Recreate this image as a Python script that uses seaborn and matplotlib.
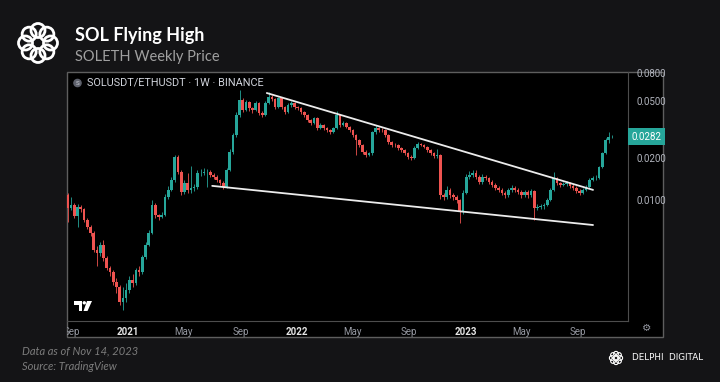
import numpy as np
import pandas as pd
import matplotlib.pyplot as plt
import matplotlib.dates as mdates
from matplotlib.patches import Rectangle, Circle, Polygon
from matplotlib.ticker import NullLocator
from matplotlib.transforms import blended_transform_factory
import seaborn as sns

# SOLUSDT/ETHUSDT weekly candles (values in units of 0.01)
first_week = "2020-08-24"
first_open = 1.09
closes = [
    0.877, 0.922, 0.770, 0.892, 0.863, 0.721, 0.644, 0.583, 0.442, 0.421,
    0.480, 0.388, 0.330, 0.309, 0.262, 0.242, 0.189, 0.202, 0.230, 0.271,
    0.258, 0.319, 0.309, 0.394, 0.480, 0.583, 0.922, 0.783, 0.758, 0.783,
    1.05, 1.18, 1.39, 2.02, 1.58, 1.14, 1.32, 1.18, 1.22, 1.24,
    1.55, 1.56, 1.58, 1.59, 1.50, 1.46, 1.39, 1.32, 1.24, 1.63,
    2.19, 2.89, 4.01, 5.12, 4.35, 4.95, 4.49, 4.35, 4.88, 4.14,
    4.01, 4.88, 5.38, 5.20, 4.57, 5.29, 4.57, 4.21, 4.72, 4.88,
    4.57, 4.49, 4.21, 4.01, 3.69, 3.52, 3.82, 3.24, 3.40, 3.24,
    3.14, 3.03, 3.24, 4.01, 3.40, 3.52, 3.30, 3.14, 2.89, 2.66,
    2.45, 2.19, 2.09, 2.15, 3.03, 3.24, 3.14, 3.12, 2.89, 2.58,
    2.45, 2.44, 2.34, 2.26, 2.15, 2.02, 1.99, 2.34, 2.50, 2.45,
    2.38, 2.26, 2.15, 2.05, 2.09, 1.08, 1.05, 1.18, 1.08, 1.05,
    1.00, 0.822, 1.12, 1.46, 1.50, 1.55, 1.46, 1.34, 1.46, 1.43,
    1.34, 1.28, 1.22, 1.18, 1.12, 1.08, 1.18, 1.22, 1.18, 1.14,
    1.08, 1.14, 1.08, 1.16, 0.877, 0.892, 0.900, 0.922, 1.00, 1.18,
    1.43, 1.32, 1.28, 1.30, 1.32, 1.26, 1.22, 1.16, 1.12, 1.18,
    1.24, 1.39, 1.43, 1.44, 1.71, 2.15, 2.66, 2.80, 2.82,
]
highs = [
    1.12, 1.05, 0.95, 0.93, 0.92, 0.88, 0.74, 0.66, 0.60, 0.47,
    0.50, 0.52, 0.40, 0.34, 0.32, 0.28, 0.25, 0.24, 0.26, 0.29,
    0.30, 0.33, 0.34, 0.41, 0.50, 0.61, 1.00, 0.96, 0.80, 0.82,
    1.10, 1.25, 1.45, 2.10, 2.08, 1.62, 1.38, 1.55, 1.75, 1.30,
    1.62, 1.65, 1.68, 1.65, 1.62, 1.55, 1.50, 1.42, 1.36, 1.70,
    2.30, 3.00, 4.20, 6.03, 5.30, 5.10, 5.05, 4.60, 5.00, 4.95,
    4.25, 5.00, 5.83, 5.55, 5.30, 5.40, 5.35, 4.65, 4.85, 5.00,
    4.95, 4.65, 4.55, 4.30, 4.05, 3.75, 3.90, 3.88, 3.50, 3.45,
    3.30, 3.20, 3.30, 4.25, 4.05, 3.65, 3.58, 3.35, 3.18, 2.95,
    2.70, 2.50, 2.25, 2.20, 3.10, 3.40, 3.30, 3.22, 3.18, 2.95,
    2.62, 2.55, 2.50, 2.38, 2.30, 2.20, 2.08, 2.40, 2.58, 2.55,
    2.50, 2.42, 2.30, 2.20, 2.30, 2.12, 1.12, 1.25, 1.22, 1.12,
    1.08, 1.02, 1.18, 1.52, 1.60, 1.63, 1.62, 1.50, 1.52, 1.50,
    1.46, 1.38, 1.32, 1.26, 1.22, 1.15, 1.22, 1.27, 1.26, 1.22,
    1.17, 1.18, 1.17, 1.20, 1.18, 0.93, 0.94, 0.96, 1.04, 1.22,
    1.58, 1.46, 1.35, 1.34, 1.36, 1.35, 1.29, 1.25, 1.19, 1.21,
    1.28, 1.43, 1.48, 1.50, 1.75, 2.20, 2.75, 3.03, 2.90,
]
lows = [
    0.70, 0.85, 0.74, 0.64, 0.82, 0.70, 0.62, 0.56, 0.43, 0.34,
    0.40, 0.37, 0.32, 0.29, 0.25, 0.22, 0.18, 0.166, 0.19, 0.22,
    0.24, 0.25, 0.29, 0.30, 0.38, 0.47, 0.57, 0.74, 0.72, 0.74,
    0.77, 1.02, 1.15, 1.35, 1.52, 1.08, 1.10, 1.12, 1.12, 1.16,
    1.20, 1.48, 1.50, 1.24, 1.45, 1.40, 1.34, 1.27, 1.20, 1.22,
    1.60, 2.12, 2.80, 3.90, 4.20, 4.25, 4.30, 4.15, 4.25, 4.00,
    3.85, 3.95, 4.80, 5.00, 4.45, 4.50, 4.45, 4.10, 4.15, 4.60,
    4.45, 4.35, 4.10, 3.90, 3.60, 3.40, 3.45, 3.15, 3.18, 3.15,
    3.05, 2.95, 2.98, 3.20, 3.30, 3.35, 3.22, 3.05, 2.80, 2.09,
    2.38, 2.12, 2.02, 2.05, 2.10, 2.95, 3.05, 3.05, 2.80, 2.50,
    2.38, 2.38, 2.27, 2.20, 2.08, 1.96, 1.93, 1.95, 2.30, 2.40,
    2.32, 2.20, 2.08, 2.00, 2.00, 1.02, 1.00, 1.02, 1.04, 1.00,
    0.95, 0.687, 0.80, 1.10, 1.40, 1.45, 1.42, 1.30, 1.30, 1.38,
    1.30, 1.24, 1.18, 1.14, 1.08, 1.04, 1.05, 1.14, 1.14, 1.10,
    1.04, 1.05, 1.04, 1.05, 0.72, 0.85, 0.86, 0.87, 0.90, 0.98,
    1.15, 1.28, 1.24, 1.25, 1.26, 1.22, 1.18, 1.12, 1.08, 1.10,
    1.15, 1.22, 1.36, 1.38, 1.40, 1.68, 2.12, 2.55, 2.75,
]
scale = 0.01
last_price = 0.0282

# wedge trendlines drawn on the chart
upper_line_dates = ["2021-10-28", "2023-10-03"]
upper_line_prices = [0.0574, 0.0118]
lower_line_dates = ["2021-07-02", "2023-10-03"]
lower_line_prices = [0.0126, 0.00665]

price_ticks = [0.01, 0.02, 0.05, 0.08]
price_labels = ["0.0100", "0.0200", "0.0500", "0.0800"]
time_ticks = ["2020-09-01", "2021-01-01", "2021-05-01", "2021-09-01", "2022-01-01",
              "2022-05-01", "2022-09-01", "2023-01-01", "2023-05-01", "2023-09-01"]
time_labels = ["Sep", "2021", "May", "Sep", "2022", "May", "Sep", "2023", "May", "Sep"]

df = pd.DataFrame({
    "week": pd.date_range(first_week, periods=len(closes), freq="W-MON"),
    "close": np.array(closes) * scale,
    "high": np.array(highs) * scale,
    "low": np.array(lows) * scale,
})
df["open"] = [first_open * scale] + list(df["close"].iloc[:-1])
df["x"] = mdates.date2num(df["week"])
df["up"] = df["close"] >= df["open"]

UP, DOWN = "#26a69a", "#ef5350"
BG = "#141416"
GRID = "#4d4d4d"

sns.set_theme(style="dark", rc={"axes.facecolor": "none", "figure.facecolor": BG,
                                "axes.grid": False})
plt.rcParams["font.family"] = ["Roboto", "DejaVu Sans"]

fig = plt.figure(figsize=(7.2, 3.82), dpi=100)

# backdrop in pixel coordinates (panel, logos, captions)
bg = fig.add_axes([0, 0, 1, 1], zorder=0)
bg.set_xlim(0, 720)
bg.set_ylim(382, 0)
bg.axis("off")
panel = Rectangle((67, 72), 596, 265, fc="black", ec="#5e5e5e", lw=1.0)
bg.add_patch(panel)

# delphi knot logo
for k in range(8):
    a = np.pi * k / 4
    bg.add_patch(Circle((38 + 12.5 * np.cos(a), 43 + 12.5 * np.sin(a)), 7.0,
                        fill=False, ec="white", lw=2.0))
for k in range(8):
    a = np.pi * k / 4
    bg.add_patch(Circle((616 + 4.2 * np.cos(a), 358 + 4.2 * np.sin(a)), 2.4,
                        fill=False, ec="white", lw=0.8))

# tradingview watermark
bg.add_patch(Polygon([(74, 301), (82, 301), (82, 311), (78.5, 311), (78.5, 304.5), (74, 304.5)],
                     fc="white", ec="none"))
bg.add_patch(Circle((84.3, 302.8), 1.7, fc="white", ec="none"))
bg.add_patch(Polygon([(87, 301), (92, 301), (87.5, 311), (83.5, 311)], fc="white", ec="none"))

# symbol icon + legend text
bg.add_patch(Circle((77.5, 83), 4.3, fc="#5d606b", ec="none"))
bg.text(77.5, 83.3, "S", fontsize=4.5, color="#d1d4dc", ha="center", va="center")
bg.text(87, 83, "SOLUSDT/ETHUSDT · 1W · BINANCE", fontsize=7.8, color="#d1d4dc",
        ha="left", va="center")
bg.text(647, 328, "\u2699", fontsize=7.5, color="#9598a1", ha="center", va="center",
        family="DejaVu Sans")

# header and footer
bg.text(75, 36, "SOL Flying High", fontsize=13, fontweight="bold", color="white",
        ha="left", va="center", family="Lato")
bg.text(75, 57, "SOLETH Weekly Price", fontsize=10.5, color="#a0a0a0",
        ha="left", va="center", family="Lato")
bg.text(22, 351, "Data as of Nov 14, 2023", fontsize=8, style="italic", color="#7c7c7c",
        ha="left", va="center", family="Lato")
bg.text(22, 366, "Source: TradingView", fontsize=8, style="italic", color="#7c7c7c",
        ha="left", va="center", family="Lato")
bg.text(632, 358, "DELPHI  DIGITAL", fontsize=6.3, color="white", ha="left", va="center",
        family="DejaVu Sans")

# price chart
ax = fig.add_axes([67 / 720, 1 - 321 / 382, 561 / 720, 249 / 382], zorder=1)
ax.set_facecolor("none")
ax.set_yscale("log")

colors = np.where(df["up"], UP, DOWN)
ax.vlines(df["x"], df["low"], df["high"], colors=colors, lw=0.6, zorder=2)
ax.bar(df["x"], df["close"] - df["open"], bottom=df["open"], width=5.8,
       color=colors, lw=0, zorder=3)

for dates, prices in [(upper_line_dates, upper_line_prices),
                      (lower_line_dates, lower_line_prices)]:
    line = pd.DataFrame({"x": mdates.date2num(pd.to_datetime(dates)), "y": prices})
    sns.lineplot(data=line, x="x", y="y", ax=ax, color="#ececec", lw=1.3,
                 estimator=None, sort=False, zorder=4)

ref = mdates.date2num(pd.Timestamp("2021-01-01"))
ax.set_xlim(ref - 131.8, ref + 1080.6)
ax.set_ylim(0.001387, 0.0809)
ax.set_xlabel("")
ax.set_ylabel("")

ax.set_xticks(mdates.date2num(pd.to_datetime(time_ticks)), time_labels)
ax.tick_params(axis="x", length=0, pad=4, labelsize=7, labelcolor="#9598a1")
for lbl in ax.get_xticklabels():
    lbl.set_clip_path(panel)
    if lbl.get_text().isdigit():
        lbl.set_fontweight("bold")
        lbl.set_color("#e6e6e6")

ax.yaxis.tick_right()
ax.set_yticks(price_ticks, price_labels)
ax.yaxis.set_minor_locator(NullLocator())
ax.tick_params(axis="y", length=0, pad=6, labelsize=7, labelcolor="#b2b5be")

for side in ["left", "top"]:
    ax.spines[side].set_visible(False)
for side in ["right", "bottom"]:
    ax.spines[side].set_color(GRID)
    ax.spines[side].set_linewidth(0.8)

ax.text(1.0 + 3.4 / 561, last_price, f"{last_price:.4f}",
        transform=blended_transform_factory(ax.transAxes, ax.transData),
        ha="left", va="center", fontsize=7, color="white", zorder=5,
        bbox=dict(boxstyle="square,pad=0.35", fc=UP, ec="none"))

fig.savefig("out.png", dpi=100, facecolor=BG)
